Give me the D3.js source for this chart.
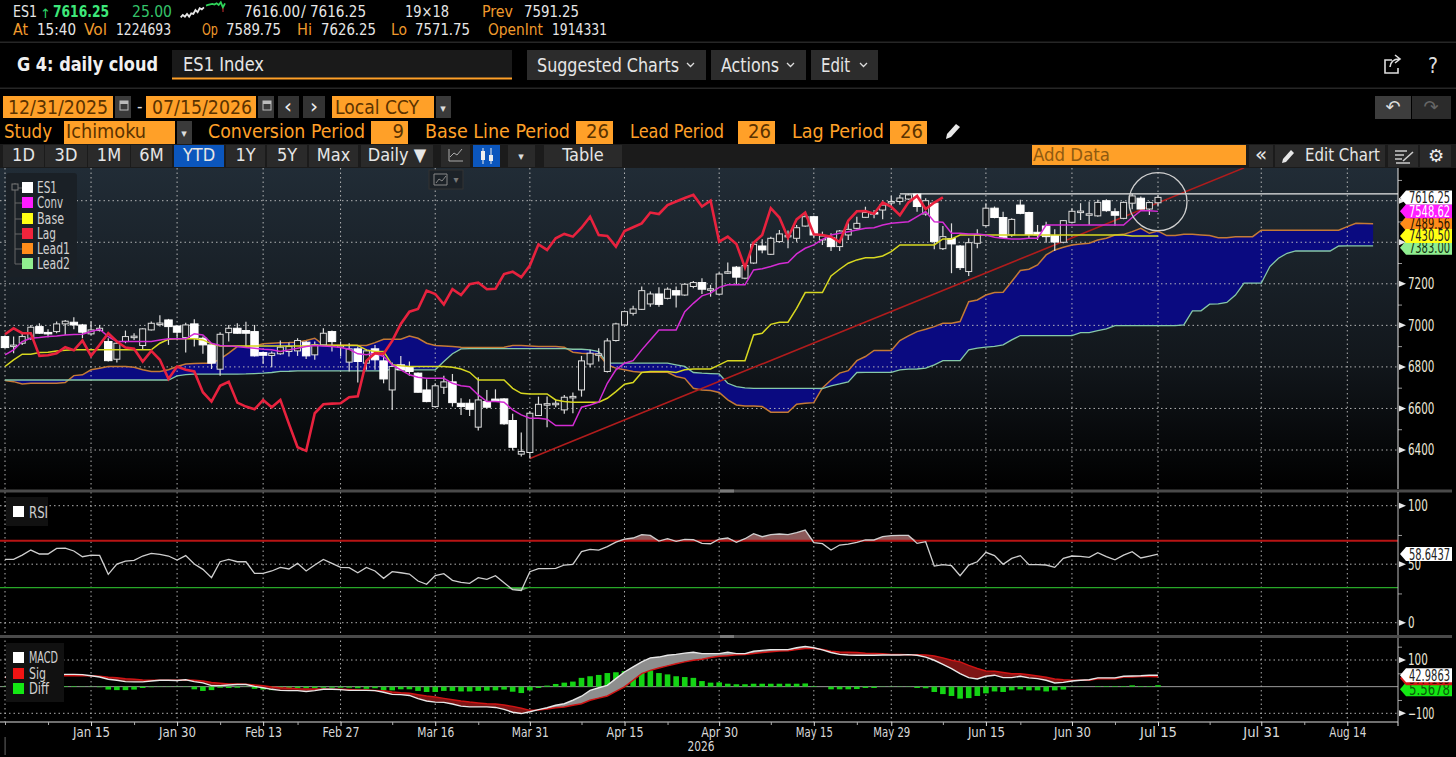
<!DOCTYPE html>
<html>
<head>
<meta charset="utf-8">
<title>ES1 Index daily cloud</title>
<script src="https://cdn.jsdelivr.net/npm/d3@7/dist/d3.min.js"></script>
<style>
html,body{margin:0;padding:0;background:#000;overflow:hidden}
svg{display:block}
text{font-family:"Liberation Sans Narrow","DejaVu Sans Condensed",sans-serif}
</style>
</head>
<body>
<svg id="svg" width="1456" height="757"></svg>
<script>
// daily bars, one entry per session from 12/31/2025 to 07/15/2026
const open = [
6946,6903,6914,6938,6994,6966,6970,7007,7015,7002,
6959,6975,6922,6837,6922,6944,6903,6978,7008,7026,
6997,6941,7007,6938,6906,6789,6965,6986,6975,6970,
6869,6855,6863,6874,6877,6919,6858,6906,6970,6901,
6823,6887,6818,6887,6829,6689,6810,6802,6770,6689,
6609,6702,6728,6625,6625,6510,6633,6645,6646,6542,
6380,6388,6566,6620,6623,6593,6655,6689,6814,6860,
6778,6927,7002,7058,7077,7103,7151,7130,7167,7146,
7187,7206,7173,7150,7255,7280,7227,7300,7382,7342,
7403,7430,7419,7478,7523,7411,7422,7379,7435,7467,
7520,7543,7555,7593,7596,7608,7632,7536,7588,7369,
7418,7382,7259,7395,7480,7564,7519,7435,7579,7543,
7448,7478,7432,7400,7496,7547,7535,7527,7600,7547,
7515,7588,7612,7560,7590];
const high = [
6949,6946,6962,7002,7010,6981,7018,7026,7039,7007,
7018,7002,6938,6922,6975,6962,6986,7018,7049,7031,
7002,7013,7029,6946,6914,6967,7002,7010,7017,7002,
6874,6874,6927,6917,6938,6925,6922,6986,6975,6922,
6914,6898,6885,6906,6874,6821,6853,6826,6773,6741,
6721,6757,6766,6649,6644,6750,6689,6692,6649,6574,
6484,6585,6657,6657,6644,6665,6677,6853,6882,6890,
6938,7013,7071,7094,7187,7163,7183,7183,7187,7203,
7214,7227,7195,7254,7302,7286,7291,7395,7414,7427,
7459,7456,7483,7543,7527,7451,7443,7459,7491,7523,
7571,7555,7600,7623,7628,7633,7633,7612,7596,7478,
7491,7387,7419,7462,7588,7572,7547,7515,7604,7547,
7483,7499,7462,7507,7564,7588,7596,7604,7607,7564,
7596,7633,7620,7596,7626];
const low = [
6890,6866,6906,6930,6959,6943,6962,6954,6981,6938,
6954,6970,6826,6821,6914,6930,6882,6975,6994,6906,
6930,6869,6898,6863,6790,6758,6922,6960,6898,6850,
6814,6798,6858,6850,6853,6838,6834,6901,6874,6850,
6778,6725,6786,6786,6721,6593,6786,6757,6677,6630,
6606,6670,6609,6569,6564,6494,6601,6638,6521,6397,
6369,6359,6564,6510,6606,6574,6577,6657,6798,6826,
6773,6922,6999,7047,7074,7090,7090,7125,7086,7143,
7179,7151,7138,7145,7247,7199,7222,7296,7347,7339,
7398,7371,7403,7475,7419,7387,7358,7358,7411,7462,
7519,7515,7511,7575,7580,7604,7547,7527,7366,7363,
7251,7267,7238,7371,7475,7515,7419,7427,7535,7416,
7411,7398,7358,7395,7491,7507,7483,7523,7547,7479,
7511,7559,7559,7531,7572];
const close = [
6893,6905,6946,6991,6962,6964,7007,7020,7002,6967,
6978,6986,6830,6914,6946,6948,6983,7010,7011,6994,
6967,7002,6938,6906,6818,6957,6986,6962,6962,6853,
6856,6866,6895,6898,6927,6853,6906,6962,6922,6903,
6887,6826,6877,6834,6742,6802,6786,6778,6678,6633,
6709,6728,6628,6609,6596,6641,6606,6641,6526,6413,
6393,6577,6620,6623,6625,6654,6658,6829,6866,6863,
6925,7007,7066,7079,7167,7151,7101,7174,7146,7198,
7206,7174,7176,7247,7258,7232,7288,7390,7363,7419,
7440,7433,7470,7523,7435,7430,7379,7454,7462,7491,
7543,7536,7579,7596,7613,7628,7572,7600,7403,7427,
7392,7278,7398,7435,7564,7519,7422,7510,7539,7438,
7435,7427,7401,7504,7549,7550,7537,7592,7552,7530,
7592,7623,7560,7591,7616];

const conv = [
6858,6882,6922,6938,6941,6946,6949,6954,6956,6957,
6970,6981,6946,6922,6922,6922,6922,6922,6930,6935,
6935,6935,6959,6954,6914,6903,6901,6898,6893,6890,
6885,6882,6874,6882,6890,6898,6903,6901,6898,6893,
6885,6863,6858,6866,6850,6810,6786,6762,6750,6745,
6745,6745,6721,6709,6705,6665,6633,6633,6630,6593,
6569,6553,6553,6548,6518,6518,6518,6606,6617,6630,
6721,6786,6818,6830,6882,6930,6978,6978,6978,7066,
7106,7142,7155,7183,7195,7195,7195,7267,7272,7283,
7296,7302,7344,7371,7387,7414,7435,7443,7451,7459,
7467,7470,7483,7491,7495,7499,7523,7548,7499,7496,
7443,7443,7440,7440,7435,7424,7419,7416,7416,7419,
7419,7483,7483,7483,7483,7483,7483,7483,7483,7483,
7483,7519,7552,7552,7548.62];
const base = [
6802,6834,6861,6861,6869,6871,6877,6880,6882,6882,
6882,6882,6882,6882,6882,6882,6882,6882,6914,6933,
6935,6935,6935,6930,6911,6901,6901,6901,6901,6901,
6901,6901,6901,6901,6901,6901,6906,6903,6903,6903,
6903,6903,6882,6874,6874,6810,6805,6802,6802,6802,
6802,6802,6798,6790,6774,6737,6737,6737,6737,6697,
6673,6670,6670,6670,6641,6633,6630,6630,6630,6630,
6649,6681,6717,6725,6773,6778,6778,6778,6773,6786,
6790,6790,6790,6810,6830,6830,6830,6954,6962,7005,
7015,7015,7082,7158,7158,7158,7238,7270,7299,7315,
7325,7325,7334,7355,7387,7387,7387,7387,7387,7416,
7416,7435,7435,7435,7435,7435,7435,7435,7435,7435,
7435,7435,7435,7435,7435,7435,7435,7435,7435,7435,
7435,7430.5,7430.5,7430.5,7430.5];
// lag line stops 25 sessions before the last bar
const lag = [
6957,6986,6962,6962,6853,6856,6866,6895,6880,6927,
6853,6906,6962,6922,6893,6887,6826,6877,6834,6742,
6802,6786,6778,6678,6633,6709,6728,6628,6609,6596,
6641,6606,6641,6526,6413,6396,6577,6620,6623,6625,
6654,6658,6829,6866,6863,6925,7007,7066,7079,7167,
7151,7101,7174,7146,7198,7206,7174,7176,7247,7258,
7232,7288,7390,7363,7419,7440,7427,7470,7523,7435,
7430,7379,7454,7472,7491,7543,7536,7579,7596,7613,
7628,7572,7600,7403,7427,7392,7278,7398,7435,7564,
7519,7422,7510,7543,7438,7435,7427,7401,7504,7549,
7550,7537,7592,7570,7530,7592,7623,7560,7591,7616];
// leads run 25 sessions past the last bar
const lead1 = [
6734,6729,6718,6721,6721,6721,6721,6725,6758,6762,
6786,6794,6802,6802,6802,6798,6786,6778,6778,6786,
6802,6814,6816,6818,6818,6837,6866,6898,6898,6901,
6911,6914,6916,6917,6919,6927,6938,6906,6906,6906,
6906,6904,6903,6917,6933,6933,6933,6949,6938,6914,
6903,6901,6898,6895,6893,6893,6893,6893,6895,6903,
6903,6901,6898,6898,6898,6895,6871,6866,6863,6861,
6810,6794,6786,6778,6774,6774,6774,6774,6754,6745,
6697,6689,6686,6677,6641,6617,6612,6612,6609,6582,
6582,6582,6620,6625,6628,6699,6737,6770,6782,6830,
6850,6879,6879,6879,6927,6949,6970,6981,6994,7010,
7010,7018,7114,7122,7146,7158,7159,7211,7264,7270,
7291,7339,7363,7376,7387,7392,7395,7411,7419,7435,
7438,7451,7467,7443,7454,7432,7432,7438,7438,7435,
7432,7422,7422,7426,7427,7427,7458,7458,7458,7458,
7458,7458,7458,7458,7458,7458,7475,7491,7490,7489.56];
const lead2 = [
6737,6737,6737,6737,6737,6737,6737,6737,6737,6737,
6737,6737,6737,6737,6737,6737,6737,6737,6737,6737,
6757,6763,6765,6765,6765,6765,6765,6765,6766,6768,
6770,6773,6778,6779,6781,6781,6781,6781,6781,6781,
6781,6781,6781,6781,6781,6789,6786,6786,6786,6786,
6786,6826,6863,6887,6888,6888,6888,6888,6888,6888,
6888,6888,6888,6888,6888,6888,6885,6885,6882,6874,
6818,6818,6818,6818,6818,6818,6818,6818,6810,6802,
6773,6770,6768,6766,6721,6705,6699,6697,6697,6697,
6697,6697,6697,6697,6697,6696,6709,6718,6728,6773,
6774,6774,6774,6774,6786,6789,6790,6794,6810,6830,
6830,6830,6882,6890,6895,6899,6906,6930,6951,6951,
6951,6951,6951,6951,6951,6965,6965,6975,6983,6999,
6999,6999,6999,6999,6999,6999,6999,7002,7070,7070,
7102,7103,7110,7146,7203,7203,7203,7283,7323,7347,
7358,7358,7358,7358,7358,7382,7383,7383,7383,7383];

const rsi = [
54.1,54.1,57.8,62.1,58.7,58.7,63.5,63.8,61.3,56.4,
57.8,57.5,41.3,50.1,52.7,53.3,57,59.3,58.4,57,
53.6,57.3,50.1,45.6,38.5,52.1,54.1,52.1,52.1,42.2,
42.2,44.2,47.3,45.9,50.7,44.2,49.3,54.1,50.7,47.3,
47,42.7,47.3,44.2,37.9,43.6,42.7,41.6,35.6,32.8,
40.2,41.9,36.2,34.5,33.6,38.5,37,40.2,34.2,28.2,
27.4,43.6,46.2,46.2,46.4,49.3,49.9,60.7,62.7,62.1,
65,68.9,71.5,72.4,75.2,74.6,69.8,71.8,69.5,71.2,
70.9,67.8,67.5,71.5,72.4,68.7,71.8,76.1,73.5,75.2,
75.8,75.2,76.9,79.2,68.4,67.5,62.1,66.4,67.2,68.7,
70.7,70.7,73.5,74.4,74.6,74.6,67.8,69.2,48.4,49.6,
48.7,40.2,49.3,52.1,60.1,57.3,49.9,55,57.3,49.6,
49.6,49.3,47.3,55,57,56.7,55.8,59.8,56.4,53.8,
57.8,60.7,55.3,57,58.64];
const macd = [
36,34,32,34,36,39,44,46,46,45,
41,36,28,24,19,18,18,21,24,24,
23,26,19,14,4,4,6,8,8,1,
-4,-10,-14,-15,-15,-18,-15,-10,-10,-11,
-14,-14,-14,-15,-21,-29,-30,-33,-45,-54,
-58,-59,-65,-73,-76,-76,-76,-78,-85,-96,
-101,-94,-86,-79,-70,-64,-51,-36,-14,-4,
5,30,55,74,93,108,111,118,121,126,
129,124,124,124,129,124,124,133,136,139,
139,139,146,151,146,138,128,121,119,118,
118,118,119,119,119,120,118,111,99,84,
68,49,34,29,39,43,34,34,39,33,
30,24,14,16,21,24,26,33,33,33,
39,40,41,43,42.99];
const signal = [
34,34,34,34,35,39,40,41,41,41,
41,39,35,33,30,28,25,24,24,24,
24,25,24,21,16,13,10,10,9,6,
3,-1,-4,-6,-8,-9,-9,-9,-10,-10,
-11,-13,-13,-14,-15,-20,-23,-25,-30,-35,
-39,-44,-49,-54,-58,-61,-64,-65,-69,-74,
-81,-89,-88,-84,-79,-76,-70,-64,-51,-43,
-35,-18,-1,24,49,61,70,78,86,93,
99,103,109,114,116,120,121,124,128,131,
134,135,139,143,144,139,133,130,129,128,
125,124,123,121,121,120,120,119,115,108,
99,93,80,68,59,58,53,48,48,45,
40,35,29,26,24,24,24,30,30,30,
36,36,38,38,37.42];
const diff = [
-1,-1,-2,-1,-2,-1,2,2,2,1,
-1,-2,-11,-13,-13,-11,-5,-2,-1,-1,
-1,-1,-10,-16,-13,-4,-5,-4,-1,-8,
-11,-13,-11,-8,-6,-6,-6,-4,-4,-4,
-4,-6,-8,-6,-14,-14,-10,-10,-16,-20,
-20,-16,-16,-18,-18,-16,-15,-14,-11,-19,
-24,-14,-5,4,10,15,19,33,39,44,
51,54,58,61,61,61,51,46,39,36,
33,21,15,16,11,9,9,11,11,11,
11,11,11,12,2,0,-10,-10,-10,-9,
-5,-5,-1,-1,-1,-1,-5,-6,-20,-28,
-35,-45,-43,-35,-25,-18,-20,-14,-10,-14,
-14,-18,-14,-11,-1,-1,0,2,2,2,
2,5,2,2,5.57];

// x axis: session numbers and what is printed under them
const dateTicks = [10,20,30,39,50,61,72,83,94,103,114,124,134,146,156];
const dateLabels = ["Jan 15","Jan 30","Feb 13","Feb 27","Mar 16","Mar 31","Apr 15","Apr 30","May 15","May 29","Jun 15","Jun 30","Jul 15","Jul 31","Aug 14"];
const dateMinor = [5,15,25,34,45,55,67,77,89,99,109,118,129,140,151];
const priceTicks = [6400,6600,6800,7000,7200];
const priceGrid = [6400,6600,6800,7000,7200,7400,7600];
const priceMinor = [6500,6700,6900,7100,7300,7500,7700];
const rsiTicks = [0,50,100];
const rsiMinor = [25,75];
const macdTicks = [-100,100];
const macdMinor = [-50,50,150];
// levels drawn by hand on the chart
const trendIdx = [61,144];
const trendVal = [6359,7758];
const ceilingIdx = [104,163];
const ceilingVal = [7633,7633];
const sparkValues = [2,9,4,12,4,14,12,24,17,29,26,32,37,39,41,42,40,44,39,47,32,44];

const svg = d3.select("#svg");
const W = 1456, axisX = 1398;

const x = d3.scaleLinear().domain([0,134]).range([5,1158]);
const yPrice = d3.scaleLinear().domain([6400,7600]).range([450,200.7]);
const yRsi = d3.scaleLinear().domain([0,100]).range([622.7,505.7]);
const yMacd = d3.scaleLinear().domain([-100,100]).range([713.3,660]);

const defs = svg.append("defs");
const grad = defs.append("linearGradient").attr("id","bg").attr("x1",0).attr("x2",0).attr("y1",0).attr("y2",1);
grad.append("stop").attr("offset","0%").attr("stop-color","#212c36");
grad.append("stop").attr("offset","60%").attr("stop-color","#12171c");
grad.append("stop").attr("offset","100%").attr("stop-color","#000");
defs.append("clipPath").attr("id","clipPrice").append("rect").attr("x",0).attr("y",168).attr("width",axisX).attr("height",321);

svg.append("rect").attr("width",W).attr("height",757).attr("fill","#000");
svg.append("rect").attr("x",0).attr("y",168).attr("width",axisX).attr("height",321).attr("fill","url(#bg)");

// ---------- header rows ----------
function label(s,px,py,o){
    o = o || {};
    const el = svg.append("text").attr("x",px).attr("y",py).text(s)
        .attr("fill",o.c || "#e6e6e6")
        .attr("font-size",o.s || 15)
        .attr("font-weight",o.b ? "bold" : null)
        .attr("text-anchor",o.a || "start");
    if(o.w) el.attr("textLength",o.w).attr("lengthAdjust","spacingAndGlyphs");
    if(o.f) el.style("font-family",o.f);
    return el;
}
function box(px,py,w,h,c){
    return svg.append("rect").attr("x",px).attr("y",py).attr("width",w).attr("height",h).attr("fill",c);
}
const ORANGE = "#ffa028", AMBER = "#f09a2c", GREY = "#2c2c2c", DARKTXT = "#5a3200";

label("ES1",13,17,{w:24});
label("↑",40,18,{c:"#2fd46a",s:13,f:"DejaVu Sans"});
label("7616.25",53,17,{c:"#3ee87a",b:1,w:56,s:15.5});
label("25.00",132,17,{c:"#35c46a",w:40});
label("7616.00",244,17,{w:56});
label("/",301,17,{s:16});
label("7616.25",310,17,{w:56});
label("19×18",405,17,{w:44});
label("Prev",482,17,{c:AMBER,w:31});
label("7591.25",524,17,{w:55});
label("At",13,35,{c:AMBER,w:15});
label("15:40",37,35,{w:39});
label("Vol",84,35,{c:AMBER,w:23});
label("1224693",116,35,{w:55});
label("Op",202,35,{c:AMBER,w:16});
label("7589.75",226,35,{w:55});
label("Hi",297,35,{c:AMBER,w:15});
label("7626.25",321,35,{w:55});
label("Lo",391,35,{c:AMBER,w:16});
label("7571.75",415,35,{w:55});
label("OpenInt",488,35,{c:AMBER,w:55});
label("1914331",552,35,{w:55});

// sparkline
const sx = d3.scaleLinear().domain([0,sparkValues.length-1]).range([180.7,225]);
const sy = d3.scaleLinear().domain([2,47]).range([17.3,2.3]);
const sparkLine = d3.line().x((d,i) => sx(i)).y(d => sy(d));
svg.append("path").attr("d",sparkLine(sparkValues.slice(0,12))).attr("fill","none").attr("stroke","#e8e8e8").attr("stroke-width",1.8);
svg.append("path").attr("d",d3.line().x((d,i) => sx(i+12)).y(d => sy(d))(sparkValues.slice(12))).attr("fill","none").attr("stroke","#2fd45a").attr("stroke-width",1.8);
svg.append("line").attr("x1",223).attr("x2",223).attr("y1",8).attr("y2",12).attr("stroke","#d03030");

box(0,41.5,W,1.5,"#262626");
label("G 4: daily cloud",17,71,{b:1,s:19,w:141,c:"#f0f0f0"});
box(172,50,340,28,"#1a1a1a");
box(172,77.5,340,2,ORANGE);
label("ES1 Index",183,71,{s:20,w:81});
box(527,50,179,30,GREY);
label("Suggested Charts",537,72,{s:20,w:142});
box(711,50,95,30,GREY);
label("Actions",721,72,{s:20,w:58});
box(811,50,67,30,GREY);
label("Edit",821,72,{s:20,w:29});
[[687,63],[787,63],[860,63]].forEach(c => {
    svg.append("path").attr("d",`M${c[0]},${c[1]} l3.5,3.5 l3.5,-3.5`).attr("fill","none").attr("stroke","#ddd").attr("stroke-width",1.3);
});
svg.append("path").attr("d","M1392,60 h-7 v13 h13 v-5 M1390,67 q1,-8 9,-8 M1395,55 l5,4 l-5,4").attr("fill","none").attr("stroke","#ddd").attr("stroke-width",1.6);
label("?",1433,73,{s:21,a:"middle",c:"#ddd"});
box(0,87.5,W,1.5,"#262626");

// date row
box(3,96,110,22,ORANGE);
label("12/31/2025",8,114,{s:20,w:100,c:DARKTXT});
box(115,96,16,22,"#3a3a3a");
label("-",137,112,{c:"#ddd",s:17});
box(146,96,110,22,ORANGE);
label("07/15/2026",152,114,{s:20,w:100,c:DARKTXT});
box(258,96,16,22,"#3a3a3a");
[120,263].forEach(c => {
    svg.append("rect").attr("x",c).attr("y",101).attr("width",8).attr("height",9).attr("fill","none").attr("stroke","#bbb");
    box(c,101,8,3,"#bbb");
});
box(278,96,21,22,"#333");
label("‹",288,113,{s:20,a:"middle",c:"#eee",f:"DejaVu Sans"});
box(303,96,22,22,"#333");
label("›",314,113,{s:20,a:"middle",c:"#eee",f:"DejaVu Sans"});
box(332,96,102,22,ORANGE);
label("Local CCY",335,114,{s:20,w:84,c:DARKTXT});
box(436,96,15,22,"#3a3a3a");
label("▾",443,112,{s:11,a:"middle",c:"#ddd",f:"DejaVu Sans"});
box(1375,96,36,23,"#3d3d3d");
label("↶",1393,113,{s:18,a:"middle",c:"#ddd",f:"DejaVu Sans"});
box(1412,96,39,23,"#2b2b2b");
label("↷",1431,113,{s:18,a:"middle",c:"#666",f:"DejaVu Sans"});

// study row
label("Study",4,138,{c:ORANGE,s:20,w:48});
box(64,121,111,23,ORANGE);
label("Ichimoku",66,138,{s:20,w:80,c:DARKTXT});
box(177,121,15,23,"#3a3a3a");
label("▾",184,137,{s:11,a:"middle",c:"#ddd",f:"DejaVu Sans"});
label("Conversion Period",208,138,{c:ORANGE,s:20,w:157});
box(371,121,37,23,ORANGE);
label("9",404,138,{s:20,a:"end",c:DARKTXT});
label("Base Line Period",425,138,{c:ORANGE,s:20,w:145});
box(576,121,37,23,ORANGE);
label("26",609,138,{s:20,a:"end",c:DARKTXT});
label("Lead Period",630,138,{c:ORANGE,s:20,w:94});
box(738,121,37,23,ORANGE);
label("26",771,138,{s:20,a:"end",c:DARKTXT});
label("Lag Period",792,138,{c:ORANGE,s:20,w:92});
box(890,121,37,23,ORANGE);
label("26",923,138,{s:20,a:"end",c:DARKTXT});
svg.append("path").attr("d","M946,139 l1,-5 l9,-10 l4,3 l-9,10 z").attr("fill","#e8e8e8");

// range buttons
box(0,144,W,24,"#1b1b1b");
const rangeButtons = [["1D",3,41],["3D",45,42],["1M",88,42],["6M",131,41],["YTD",174,50],["1Y",226,39],["5Y",267,40],["Max",309,49],["Daily ▼",361,72]];
rangeButtons.forEach(b => {
    box(b[1],145,b[2],22,b[0] === "YTD" ? "#0b56bd" : "#2a2a2a");
    label(b[0],b[1]+b[2]/2,161,{s:18,a:"middle",c:"#e6e6e6"});
});
box(441,145,29,22,"#2a2a2a");
svg.append("path").attr("d","M449,161 v-12 M449,161 h14 M450,157 l4,-4 l3,2 l5,-6").attr("fill","none").attr("stroke","#aaa");
box(473,145,27,22,"#0b56bd");
[483,491].forEach((c,i) => {
    svg.append("line").attr("x1",c).attr("x2",c).attr("y1",148).attr("y2",164).attr("stroke","#eee");
    box(c-2,i ? 155 : 151,4,i ? 6 : 9,"#eee");
});
box(508,145,27,22,"#2a2a2a");
label("▾",521,160,{s:11,a:"middle",c:"#ddd",f:"DejaVu Sans"});
box(544,145,78,22,"#2a2a2a");
label("Table",583,161,{s:18,a:"middle",c:"#e6e6e6"});
box(1032,145,214,20,ORANGE);
label("Add Data",1033,161,{s:18,w:77,c:"#8f5a10"});
box(1249,145,24,22,"#2a2a2a");
label("«",1261,161,{s:20,a:"middle",c:"#e6e6e6",f:"DejaVu Sans"});
box(1275,145,110,22,"#2a2a2a");
svg.append("path").attr("d","M1282,163 l1,-4 l8,-9 l3,3 l-8,9 z").attr("fill","#e8e8e8");
label("Edit Chart",1305,161,{s:18,w:75});
box(1388,145,30,22,"#2a2a2a");
svg.append("path").attr("d","M1395,151 h12 M1395,155 h9 M1395,159 h7 M1396,163 h14 M1403,161 l10,-9").attr("fill","none").attr("stroke","#ccc").attr("stroke-width",1.6);
box(1420,145,31,22,"#2a2a2a");
label("⚙",1436,162,{s:18,a:"middle",c:"#eee",f:"DejaVu Sans"});

// ---------- price panel ----------
const cloud = d3.area().x((d,i) => x(i)).y0((d,i) => yPrice(lead2[i])).y1(d => yPrice(d));
svg.append("path").attr("d",cloud(lead1)).attr("fill","#0a0a80").attr("clip-path","url(#clipPrice)");

// dotted grid
const gridH = svg.append("g").attr("stroke","#c4c4c4").attr("stroke-width",1).attr("stroke-dasharray","1.5,3").attr("opacity",0.9);
function hgrid(scale,vals){
    gridH.selectAll(null).data(vals).enter().append("line")
        .attr("x1",0).attr("x2",axisX).attr("y1",d => scale(d)).attr("y2",d => scale(d));
}
hgrid(yPrice,priceGrid);
hgrid(yRsi,rsiTicks);
hgrid(yMacd,macdTicks);
const gridV = svg.append("g").attr("stroke","#c4c4c4").attr("stroke-width",1).attr("stroke-dasharray","1.5,3").attr("opacity",0.9);
gridV.selectAll("line").data([0].concat(dateTicks)).enter().append("line")
    .attr("x1",d => x(d)).attr("x2",d => x(d)).attr("y1",168).attr("y2",722);

const indLine = d3.line().x((d,i) => x(i)).y(d => yPrice(d));
const price = svg.append("g").attr("clip-path","url(#clipPrice)");
price.append("path").attr("d",indLine(lead1)).attr("fill","none").attr("stroke","#c47a36").attr("stroke-width",1.5);
price.append("path").attr("d",indLine(lead2)).attr("fill","none").attr("stroke","#86c8a8").attr("stroke-width",1.3);

// trend line and ceiling
const lv = d3.line().x(d => x(d[0])).y(d => yPrice(d[1]));
price.append("path").attr("d",lv(d3.zip(trendIdx,trendVal))).attr("fill","none").attr("stroke","#b01c1c").attr("stroke-width",1.6);
price.append("path").attr("d",lv(d3.zip(ceilingIdx,ceilingVal))).attr("fill","none").attr("stroke","#e8e8e8").attr("stroke-width",1.3);

// candles
const candles = price.append("g").selectAll("g").data(close).enter().append("g");
candles.append("line")
    .attr("x1",(d,i) => x(i)).attr("x2",(d,i) => x(i))
    .attr("y1",(d,i) => yPrice(high[i])).attr("y2",(d,i) => yPrice(low[i]))
    .attr("stroke","#dcdcdc").attr("stroke-width",1.2);
candles.append("rect")
    .attr("x",(d,i) => x(i)-(d >= open[i] ? 3 : 3.75))
    .attr("width",(d,i) => d >= open[i] ? 6 : 7.5)
    .attr("y",(d,i) => yPrice(Math.max(open[i],d)))
    .attr("height",(d,i) => Math.max(1.5,Math.abs(yPrice(open[i])-yPrice(d))))
    .attr("fill",(d,i) => d >= open[i] ? "#15191d" : "#fff")
    .attr("stroke",(d,i) => d >= open[i] ? "#dcdcdc" : "#fff")
    .attr("stroke-width",1);

price.append("path").attr("d",indLine(base)).attr("fill","none").attr("stroke","#d8d820").attr("stroke-width",1.5);
price.append("path").attr("d",indLine(conv)).attr("fill","none").attr("stroke","#d42cd4").attr("stroke-width",1.5);
price.append("path").attr("d",indLine(lag)).attr("fill","none").attr("stroke","#e8223e").attr("stroke-width",2.6);

// circle round the last bars
svg.append("circle").attr("cx",x(134)).attr("cy",yPrice(7600)+1).attr("r",29).attr("fill","none").attr("stroke","#cfcfcf").attr("stroke-width",1.3);

// legend
box(6,173,71,104,"#1a2026").attr("rx",3);
const legendNames = ["ES1","Conv","Base","Lag","Lead1","Lead2"];
const legendColors = ["#fff","#ff1cff","#ffff14","#f0243c","#ff8c1a","#90ee90"];
const legendWidths = [20,26,27,19,33,33];
svg.append("path").attr("d","M15,183 v81 h7 M15,203 h7 M15,219 h7 M15,234 h7 M15,249 h7 M15,188 h7").attr("fill","none").attr("stroke","#666");
box(12,184,6,6,"#1a2026").attr("stroke","#777");
legendNames.forEach((n,i) => {
    const yy = [188,203,219,234,249,264][i];
    box(22,yy-6,11,11,legendColors[i]);
    label(n,37,yy+5,{s:15,c:"#d0d0d0",w:legendWidths[i]});
});
box(429,170,34,19,"#1c2228").attr("stroke","#333");
svg.append("path").attr("d","M434,174 h13 v11 h-13 z M436,183 l3,-4 l3,2 l4,-5").attr("fill","none").attr("stroke","#888");
label("▾",456,183,{s:10,a:"middle",c:"#777",f:"DejaVu Sans"});

// ---------- RSI panel ----------
const rsiLine = d3.line().x((d,i) => x(i)).y(d => yRsi(d));
const hiArea = d3.area().x((d,i) => x(i)).y0(d => yRsi(Math.max(d,70))).y1(yRsi(70));
const loArea = d3.area().x((d,i) => x(i)).y0(d => yRsi(Math.min(d,30))).y1(yRsi(30));
svg.append("path").attr("d",hiArea(rsi)).attr("fill","#8b5a5a");
svg.append("path").attr("d",loArea(rsi)).attr("fill","#6a9a6a");
svg.append("line").attr("x1",0).attr("x2",axisX).attr("y1",yRsi(70)).attr("y2",yRsi(70)).attr("stroke","#b81414").attr("stroke-width",2);
svg.append("line").attr("x1",0).attr("x2",axisX).attr("y1",yRsi(30)).attr("y2",yRsi(30)).attr("stroke","#28a828").attr("stroke-width",1.4);
svg.append("path").attr("d",rsiLine(rsi)).attr("fill","none").attr("stroke","#cfcfcf").attr("stroke-width",1.3);
box(6,497,42,29,"#111");
box(13,506,11,11,"#fff");
label("RSI",29,518,{s:15,c:"#d0d0d0",w:19});

// ---------- MACD panel ----------
svg.append("line").attr("x1",0).attr("x2",axisX).attr("y1",yMacd(0)).attr("y2",yMacd(0)).attr("stroke","#9a9a9a").attr("stroke-width",1);
svg.append("g").selectAll("rect").data(diff).enter().append("rect")
    .attr("x",(d,i) => x(i)-2.8).attr("width",5.6)
    .attr("y",d => yMacd(Math.max(d,0)))
    .attr("height",d => Math.abs(yMacd(d)-yMacd(0)))
    .attr("fill","#14d414");
// red where the macd sits under the signal, grey where it sits over it
const macdUnder = d3.area().x((d,i) => x(i)).y0((d,i) => yMacd(Math.max(d,signal[i]))).y1(d => yMacd(d));
const macdOver = d3.area().x((d,i) => x(i)).y0((d,i) => yMacd(Math.min(d,signal[i]))).y1(d => yMacd(d));
svg.append("path").attr("d",macdUnder(macd)).attr("fill","#7d1414");
svg.append("path").attr("d",macdOver(macd)).attr("fill","#8e8e8e");
const mLine = d3.line().x((d,i) => x(i)).y(d => yMacd(d));
svg.append("path").attr("d",mLine(signal)).attr("fill","none").attr("stroke","#d01414").attr("stroke-width",1.5);
svg.append("path").attr("d",mLine(macd)).attr("fill","none").attr("stroke","#e8e8e8").attr("stroke-width",1.4);
box(6,643,58,59,"#111");
[["MACD","#fff",658,29],["Sig","#f01414",674,17],["Diff","#14e814",689,20]].forEach(r => {
    box(13,r[2]-6,11,11,r[1]);
    label(r[0],29,r[2]+5,{s:15,c:"#d0d0d0",w:r[3]});
});

// separators between panels
box(0,489.5,1452,3,"#4a4a4a");
box(720,489.5,14,3,"#7a7a7a");
box(0,635,1452,3,"#4a4a4a");
box(720,635,14,3,"#7a7a7a");

// ---------- axes ----------
const AXISFONT = "'Liberation Sans Narrow','DejaVu Sans Condensed',sans-serif";
function tri(yy){
    svg.append("path").attr("d",`M${axisX+1},${yy-3} l7,3 l-7,3 z`).attr("fill","#e8e8e8");
}
function rightAxis(scale,major,minor){
    const minorAxis = d3.axisRight(scale).tickValues(minor).tickSize(4).tickFormat("");
    const g0 = svg.append("g").attr("transform",`translate(${axisX},0)`).call(minorAxis);
    g0.select(".domain").remove();
    g0.selectAll("line").attr("stroke","#999");
    const a = d3.axisRight(scale).tickValues(major).tickSize(0).tickPadding(10).tickFormat(d3.format("d"));
    const g = svg.append("g").attr("transform",`translate(${axisX},0)`).call(a);
    g.select(".domain").remove();
    g.selectAll("text").attr("fill","#ece8d8").attr("font-size",15).style("font-family",AXISFONT)
        .attr("textLength",d => String(d).length*6.6).attr("lengthAdjust","spacingAndGlyphs");
    major.forEach(v => tri(scale(v)));
}
rightAxis(yPrice,priceTicks,priceMinor);
rightAxis(yRsi,rsiTicks,rsiMinor);
rightAxis(yMacd,macdTicks,macdMinor);
priceGrid.slice(-2).forEach(v => tri(yPrice(v)));
svg.append("line").attr("x1",axisX).attr("x2",axisX).attr("y1",168).attr("y2",489).attr("stroke","#e8e8e8");
svg.append("line").attr("x1",axisX).attr("x2",axisX).attr("y1",492).attr("y2",635).attr("stroke","#bbb");
svg.append("line").attr("x1",axisX).attr("x2",axisX).attr("y1",638).attr("y2",722).attr("stroke","#bbb");

// date axis
const axisY = 722;
svg.append("line").attr("x1",0).attr("x2",axisX).attr("y1",axisY).attr("y2",axisY).attr("stroke","#ddd").attr("stroke-width",1.2);
const dateAxis = d3.axisBottom(x).tickValues(dateTicks).tickSize(4).tickPadding(1)
    .tickFormat((d,i) => dateLabels[i]);
const gx = svg.append("g").attr("transform",`translate(0,${axisY})`).call(dateAxis);
gx.select(".domain").remove();
gx.selectAll("line").attr("stroke","#ddd");
gx.selectAll("text").attr("fill","#d8d8d8").attr("font-size",14.5).style("font-family",AXISFONT)
    .attr("textLength",37).attr("lengthAdjust","spacingAndGlyphs");
const gx2 = svg.append("g").attr("transform",`translate(0,${axisY})`)
    .call(d3.axisBottom(x).tickValues(dateMinor.concat([0])).tickSize(3).tickFormat(""));
gx2.select(".domain").remove();
gx2.selectAll("line").attr("stroke","#aaa");
label("2026",701,751,{s:14.5,a:"middle",c:"#d8d8d8",w:27});
box(4.5,737,1.2,18,"#555");
svg.append("line").attr("x1",axisX).attr("x2",axisX).attr("y1",722).attr("y2",726).attr("stroke","#ddd");

// ---------- value tags, last on top ----------
function tag(yy,txt,bg,fg){
    const h = 14, x0 = 1400, xe = 1452;
    svg.append("path").attr("d",`M${x0},${yy} L${x0+6},${yy-h/2} L${xe},${yy-h/2} L${xe},${yy+h/2} L${x0+6},${yy+h/2} Z`).attr("fill",bg);
    label(txt,x0+9,yy+5.5,{s:15.5,c:fg,w:41});
}
const lastI = close.length-1;
tag(yPrice(lead1[lead1.length-1]),"7489.56","#ff8c1a","#2a1500");
tag(yPrice(lead2[lead2.length-1])+2,"7383.00","#90ee90","#103010");
tag(yPrice(base[lastI]),"7430.50","#ffff14","#222");
tag(yPrice(conv[lastI]),"7548.62","#ff1cff","#fff");
tag(yPrice(close[lastI]),"7616.25","#fff","#222");
tag(yRsi(rsi[lastI]),"58.6437","#fff","#222");
tag(yMacd(diff[lastI])+4,"5.5678","#14e814","#0a5a0a");
tag(yMacd(signal[lastI])+1.5,"37.4185","#d01414","#400");
tag(yMacd(macd[lastI]),"42.9863","#fff","#222");
</script>
</body>
</html>
